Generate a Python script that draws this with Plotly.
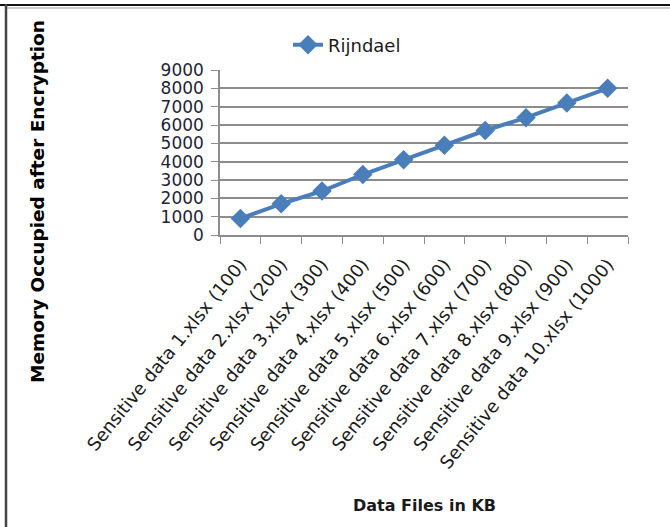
import plotly.graph_objects as go

# Encrypted file sizes for ten spreadsheets of increasing size
files = [
    "Sensitive data 1.xlsx (100)",
    "Sensitive data 2.xlsx (200)",
    "Sensitive data 3.xlsx (300)",
    "Sensitive data 4.xlsx (400)",
    "Sensitive data 5.xlsx (500)",
    "Sensitive data 6.xlsx (600)",
    "Sensitive data 7.xlsx (700)",
    "Sensitive data 8.xlsx (800)",
    "Sensitive data 9.xlsx (900)",
    "Sensitive data 10.xlsx (1000)",
]
rijndael = [900, 1700, 2400, 3300, 4100, 4900, 5700, 6400, 7200, 8000]
y_ticks = [0, 1000, 2000, 3000, 4000, 5000, 6000, 7000, 8000, 9000]

W, H = 670, 527
L, R, T, B = 220, 42, 70, 292
pw, ph = W - L - R, H - T - B


def px_x(p):
    return (p - L) / pw


def px_y(p):
    return (H - B - p) / ph


blue = "#4A7EBB"
grid = "#8C8C8C"

fig = go.Figure()
fig.add_trace(go.Scatter(
    x=files, y=rijndael, name="Rijndael", mode="lines+markers",
    line=dict(color=blue, width=4),
    marker=dict(symbol="diamond", size=15, color=blue),
))

fig.update_layout(
    width=W, height=H,
    margin=dict(l=L, r=R, t=T, b=B),
    paper_bgcolor="white", plot_bgcolor="white",
    font=dict(family="DejaVu Sans", color="#1a1a1a"),
    showlegend=True,
    legend=dict(
        x=px_x(288), y=px_y(45), xanchor="left", yanchor="middle",
        font=dict(size=18, family="DejaVu Sans", color="#1a1a1a"),
        bgcolor="rgba(0,0,0,0)", itemwidth=30,
    ),
    xaxis=dict(
        type="category", range=[-0.5, len(files) - 0.5],
        tickson="boundaries", ticks="outside", ticklen=7, tickcolor=grid,
        showline=True, linecolor=grid, linewidth=1.5,
        showgrid=False, tickangle=-51, ticklabelstandoff=10,
        tickfont=dict(size=18, family="DejaVu Sans", color="#1a1a1a"),
    ),
    yaxis=dict(
        range=[0, 9000], tickvals=y_ticks,
        ticks="outside", ticklen=7, tickcolor=grid,
        showline=True, linecolor=grid, linewidth=1.5,
        showgrid=True, gridcolor=grid, gridwidth=1.5,
        zeroline=False, ticklabelstandoff=4,
        tickfont=dict(size=17, family="DejaVu Sans", color="#1f1f38"),
    ),
    annotations=[
        dict(text="<b>Memory Occupied after Encryption</b>", textangle=-90,
             xref="paper", yref="paper", x=px_x(37), y=px_y(202),
             showarrow=False, xanchor="center", yanchor="middle",
             font=dict(size=18.5, family="DejaVu Sans", color="black")),
        dict(text="<b>Data Files in KB</b>",
             xref="paper", yref="paper", x=px_x(424), y=px_y(505),
             showarrow=False, xanchor="center", yanchor="middle",
             font=dict(size=16, family="DejaVu Sans", color="#1a1a1a")),
    ],
    shapes=[
        dict(type="line", xref="paper", yref="paper",
             x0=px_x(0), x1=px_x(W), y0=px_y(5), y1=px_y(5),
             line=dict(color="#111111", width=2)),
        dict(type="line", xref="paper", yref="paper",
             x0=px_x(7), x1=px_x(W), y0=px_y(8), y1=px_y(8),
             line=dict(color="#bbbbbb", width=1.5)),
        dict(type="line", xref="paper", yref="paper",
             x0=px_x(6), x1=px_x(6), y0=px_y(4), y1=px_y(H),
             line=dict(color="#444444", width=2.5)),
    ],
)

fig.write_html("out.html")
